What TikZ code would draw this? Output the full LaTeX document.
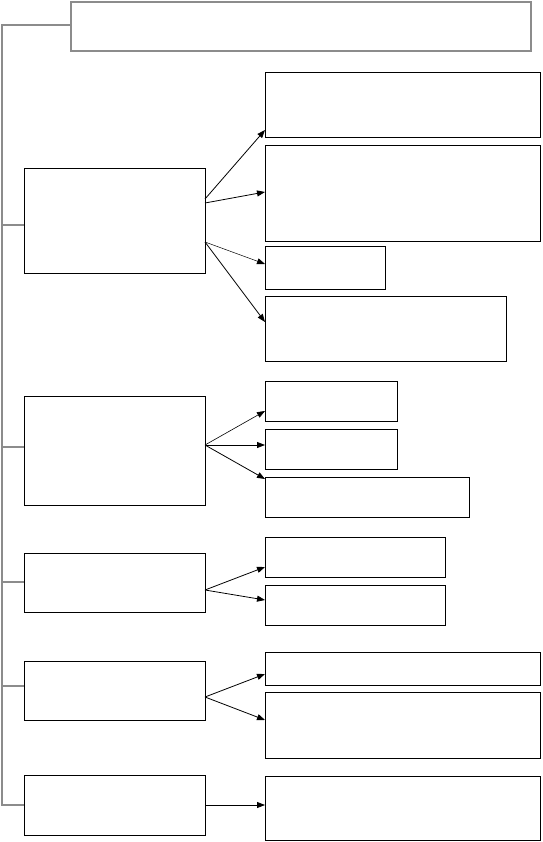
\documentclass[tikz,border=0pt]{standalone}
\usetikzlibrary{arrows.meta}
\begin{document}
\begin{tikzpicture}[x=1pt,y=-1pt,
  box/.style={draw=black,line width=0.9pt,anchor=north west,inner sep=0pt,outer sep=0pt},
  topbox/.style={draw=black!45,line width=1.6pt,anchor=north west,inner sep=0pt,outer sep=0pt},
  tree/.style={draw=black!45,line width=1.6pt},
  arr/.style={draw=black,line width=0.8pt,-{Triangle[length=8pt,width=6pt]}}]
\useasboundingbox (0,0) rectangle (542,842);
\node[topbox,minimum width=460pt,minimum height=49pt] (T) at (71,2) {};
\node[box,minimum width=181pt,minimum height=105pt] (L1) at (24,168) {};
\node[box,minimum width=181pt,minimum height=109pt] (L2) at (24,396) {};
\node[box,minimum width=181pt,minimum height=59pt] (L3) at (24,553) {};
\node[box,minimum width=181pt,minimum height=59pt] (L4) at (24,661) {};
\node[box,minimum width=181pt,minimum height=60pt] (L5) at (24,775) {};
\node[box,minimum width=275pt,minimum height=65pt] (R1a) at (265,72) {};
\node[box,minimum width=275pt,minimum height=96pt] (R1b) at (265,145) {};
\node[box,minimum width=120pt,minimum height=43pt] (R1c) at (265,246) {};
\node[box,minimum width=241pt,minimum height=65pt] (R1d) at (265,296) {};
\node[box,minimum width=132pt,minimum height=40pt] (R2a) at (265,381) {};
\node[box,minimum width=132pt,minimum height=40pt] (R2b) at (265,429) {};
\node[box,minimum width=204pt,minimum height=40pt] (R2c) at (265,477) {};
\node[box,minimum width=180pt,minimum height=40pt] (R3a) at (265,537) {};
\node[box,minimum width=180pt,minimum height=40pt] (R3b) at (265,585) {};
\node[box,minimum width=275pt,minimum height=33pt] (R4a) at (265,652) {};
\node[box,minimum width=275pt,minimum height=66pt] (R4b) at (265,692) {};
\node[box,minimum width=275pt,minimum height=64pt] (R5) at (265,776) {};
% tree
\coordinate (c0) at (2,25);
\coordinate (cb) at (2,805);
\draw[tree] (T.west |- c0) -- (c0) -- (cb) -- (L5.west |- cb);
\draw[tree] (2,225) -- (L1.west |- 0,225);
\draw[tree] (2,447) -- (L2.west |- 0,447);
\draw[tree] (2,582) -- (L3.west |- 0,582);
\draw[tree] (2,686) -- (L4.west |- 0,686);
% arrows L1
\draw[arr] ([yshift=21.5pt]L1.east) -- ([yshift=-25.5pt]R1a.west);
\draw[arr] ([yshift=17.5pt]L1.east) -- ([yshift=1pt]R1b.west);
\draw[arr,line width=0.5pt] ([yshift=-21.5pt]L1.east) -- ([yshift=3.5pt]R1c.west);
\draw[arr] ([yshift=-21.5pt]L1.east) -- ([yshift=6.5pt]R1d.west);
% arrows L2
\draw[arr,line width=0.6pt] ([yshift=5.5pt]L2.east) -- ([yshift=-10pt]R2a.west);
\draw[arr] ([yshift=5.5pt]L2.east) -- ([yshift=4pt]R2b.west);
\draw[arr] ([yshift=5.5pt]L2.east) -- ([yshift=18pt]R2c.west);
% arrows L3
\draw[arr] ([yshift=-7.5pt]L3.east) -- ([yshift=-10pt]R3a.west);
\draw[arr] ([yshift=-7.5pt]L3.east) -- ([yshift=5pt]R3b.west);
% arrows L4
\draw[arr] ([yshift=-6.5pt]L4.east) -- ([yshift=-5.5pt]R4a.west);
\draw[arr] ([yshift=-6.5pt]L4.east) -- ([yshift=5pt]R4b.west);
% arrow L5
\draw[arr] (L5.east) -- (R5.west |- L5.east);
\end{tikzpicture}
\end{document}
